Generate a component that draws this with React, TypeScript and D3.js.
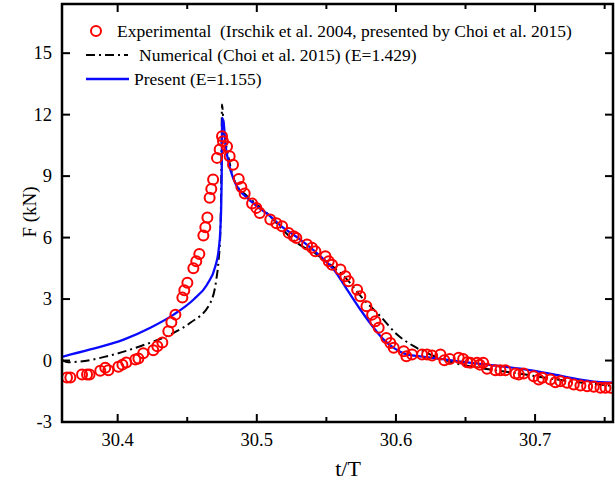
import React from "react";
import * as d3 from "d3";

const expT = [30.3636, 30.366, 30.3744, 30.378, 30.3798, 30.3875, 30.3911, 30.3933, 30.4005, 30.4034, 30.4062, 30.4127, 30.4149, 30.4184, 30.4256, 30.4285, 30.4321, 30.4364, 30.4386, 30.4415, 30.4465, 30.4479, 30.4501, 30.4544, 30.4565, 30.4587, 30.4616, 30.463, 30.4645, 30.4661, 30.4673, 30.4686, 30.4714, 30.4733, 30.475, 30.4757, 30.4786, 30.4805, 30.4829, 30.487, 30.4889, 30.4913, 30.4966, 30.4997, 30.5021, 30.5097, 30.5141, 30.5182, 30.5229, 30.5265, 30.5284, 30.5361, 30.5397, 30.5421, 30.5493, 30.5517, 30.5541, 30.5601, 30.5637, 30.566, 30.5721, 30.5744, 30.5788, 30.5829, 30.5852, 30.5876, 30.5931, 30.596, 30.5984, 30.6056, 30.6075, 30.6116, 30.6188, 30.6224, 30.626, 30.632, 30.6348, 30.6387, 30.6451, 30.6483, 30.6512, 30.6535, 30.6583, 30.6602, 30.6627, 30.6655, 30.6715, 30.6751, 30.6787, 30.6859, 30.6883, 30.6918, 30.699, 30.7026, 30.7051, 30.711, 30.7146, 30.7182, 30.723, 30.7278, 30.7326, 30.7374, 30.7422, 30.747, 30.7506, 30.7542];
const expF = [-0.83, -0.83, -0.68, -0.68, -0.68, -0.5, -0.35, -0.47, -0.3, -0.2, -0.1, 0.05, 0.1, 0.35, 0.5, 0.7, 0.88, 1.43, 1.87, 2.24, 3.07, 3.43, 3.8, 4.5, 4.85, 5.2, 6.1, 6.5, 6.98, 7.94, 8.37, 8.83, 9.89, 10.3, 10.94, 10.7, 10.45, 9.97, 9.56, 8.86, 8.47, 8.15, 7.66, 7.45, 7.2, 6.88, 6.7, 6.55, 6.23, 6.06, 5.98, 5.66, 5.5, 5.33, 5.09, 4.84, 4.68, 4.44, 4.11, 3.87, 3.46, 3.14, 2.65, 2.24, 1.92, 1.6, 1.1, 0.86, 0.62, 0.45, 0.21, 0.29, 0.29, 0.29, 0.24, 0.29, 0.01, 0.08, 0.13, 0.08, -0.08, -0.11, -0.11, -0.2, -0.11, -0.4, -0.47, -0.47, -0.47, -0.63, -0.68, -0.63, -0.77, -0.93, -0.84, -0.93, -1.06, -1.01, -1.09, -1.17, -1.22, -1.25, -1.28, -1.33, -1.33, -1.33];

const numT = [30.36, 30.3645, 30.3732, 30.3924, 30.4163, 30.4402, 30.4522, 30.4666, 30.4709, 30.4726, 30.4738, 30.4745, 30.475, 30.4756, 30.4762, 30.4786, 30.481, 30.4846, 30.4918, 30.5002, 30.5097, 30.5169, 30.5289, 30.5433, 30.5529, 30.5649, 30.5768, 30.5888, 30.6008, 30.6128, 30.6248, 30.6415, 30.6607, 30.6895, 30.7182, 30.7571];
const numF = [0.02, -0.08, -0.05, 0.21, 0.7, 1.35, 1.84, 2.81, 3.95, 4.93, 6.24, 9.0, 12.5, 12.1, 11.27, 10.3, 9.48, 8.67, 8.1, 7.6, 7.04, 6.5, 5.74, 5.17, 4.68, 3.95, 2.98, 2.16, 1.27, 0.7, 0.29, -0.11, -0.36, -0.65, -0.95, -1.25];

const preT = [30.36, 30.3803, 30.4043, 30.4235, 30.4402, 30.4546, 30.4642, 30.4702, 30.4726, 30.4738, 30.4745, 30.4749, 30.475, 30.4762, 30.4774, 30.4798, 30.4834, 30.4882, 30.493, 30.5002, 30.5097, 30.5169, 30.5313, 30.5457, 30.5553, 30.5649, 30.5744, 30.584, 30.5912, 30.5984, 30.6056, 30.6176, 30.632, 30.6463, 30.6655, 30.6895, 30.7134, 30.7326, 30.747, 30.7571];
const preF = [0.18, 0.54, 1.02, 1.6, 2.24, 2.98, 3.7, 4.6, 5.41, 6.39, 7.85, 10.0, 11.84, 11.6, 10.6, 9.64, 8.83, 8.26, 7.94, 7.53, 7.04, 6.6, 5.9, 5.09, 4.44, 3.46, 2.49, 1.6, 1.02, 0.62, 0.35, 0.2, 0.08, -0.05, -0.2, -0.4, -0.68, -0.93, -1.06, -1.08];

const xTicks = [30.4, 30.5, 30.6, 30.7];
const xMinorTicks = [30.45, 30.55, 30.65, 30.75];
const yTicks = [-3, 0, 3, 6, 9, 12, 15];

const legendLabels = [
  "Experimental  (Irschik et al. 2004, presented by Choi et al. 2015)",
  "Numerical (Choi et al. 2015) (E=1.429)",
  "Present (E=1.155)",
];

const W = 615, H = 490;
const L = 62, R = 613, T = 4, B = 422;

export default function App() {
  const x = d3.scaleLinear().domain([30.36, 30.756]).range([L, R]);
  const y = d3.scaleLinear().domain([-3, 17.4]).range([B, T]);
  const line = d3.line<[number, number]>().x(d => x(d[0])).y(d => y(d[1])).curve(d3.curveMonotoneX);
  const numPts = numT.map((t, i) => [t, numF[i]] as [number, number]);
  const prePts = preT.map((t, i) => [t, preF[i]] as [number, number]);
  const font = "'Liberation Serif', 'Times New Roman', serif";
  const red = "#ff0000";
  const blue = "#0a0aff";
  return (
    <svg width={W} height={H} style={{ position: "absolute", left: 0, top: 0, background: "#fff" }} fontFamily={font}>
      <defs>
        <clipPath id="plotClip">
          <rect x={L} y={T} width={R - L} height={B - T} />
        </clipPath>
      </defs>
      <g clipPath="url(#plotClip)">
        <path d={line(numPts) || ""} fill="none" stroke="#000" strokeWidth={2} strokeDasharray="9,4,2,4" />
        <path d={line(prePts) || ""} fill="none" stroke={blue} strokeWidth={2.3} />
        {expT.map((t, i) => (
          <circle key={i} cx={x(t)} cy={y(expF[i])} r={5} fill="none" stroke={red} strokeWidth={2} />
        ))}
      </g>
      <rect x={L} y={T} width={R - L} height={B - T} fill="none" stroke="#000" strokeWidth={2.5} />
      {xTicks.map(t => (
        <g key={"xt" + t}>
          <line x1={x(t)} x2={x(t)} y1={B} y2={B - 8} stroke="#000" strokeWidth={2} />
          <line x1={x(t)} x2={x(t)} y1={T} y2={T + 8} stroke="#000" strokeWidth={2} />
          <text x={x(t)} y={446} textAnchor="middle" fontSize={18.5}>{t.toFixed(1)}</text>
        </g>
      ))}
      {xMinorTicks.map(t => (
        <g key={"xm" + t}>
          <line x1={x(t)} x2={x(t)} y1={B} y2={B - 5} stroke="#000" strokeWidth={2} />
          <line x1={x(t)} x2={x(t)} y1={T} y2={T + 5} stroke="#000" strokeWidth={2} />
        </g>
      ))}
      {yTicks.map(v => (
        <g key={"yt" + v}>
          <line x1={L} x2={L + 8} y1={y(v)} y2={y(v)} stroke="#000" strokeWidth={2} />
          <line x1={R} x2={R - 8} y1={y(v)} y2={y(v)} stroke="#000" strokeWidth={2} />
          <text x={52} y={y(v) + 6} textAnchor="end" fontSize={18.5}>{v}</text>
        </g>
      ))}
      <text x={348} y={476} textAnchor="middle" fontSize={22}>t/T</text>
      <text transform={`translate(36,212) rotate(-90)`} textAnchor="middle" fontSize={19}>F (kN)</text>
      <circle cx={96} cy={31} r={5} fill="none" stroke={red} strokeWidth={2} />
      <text x={117} y={37} fontSize={17.5} style={{ whiteSpace: "pre" }}>{legendLabels[0]}</text>
      <line x1={86} x2={128} y1={55} y2={55} stroke="#000" strokeWidth={2} strokeDasharray="9,4,2,4" />
      <text x={139} y={61} fontSize={17.5}>{legendLabels[1]}</text>
      <line x1={86} x2={129} y1={79} y2={79} stroke={blue} strokeWidth={2.3} />
      <text x={134} y={85} fontSize={17.5}>{legendLabels[2]}</text>
    </svg>
  );
}
